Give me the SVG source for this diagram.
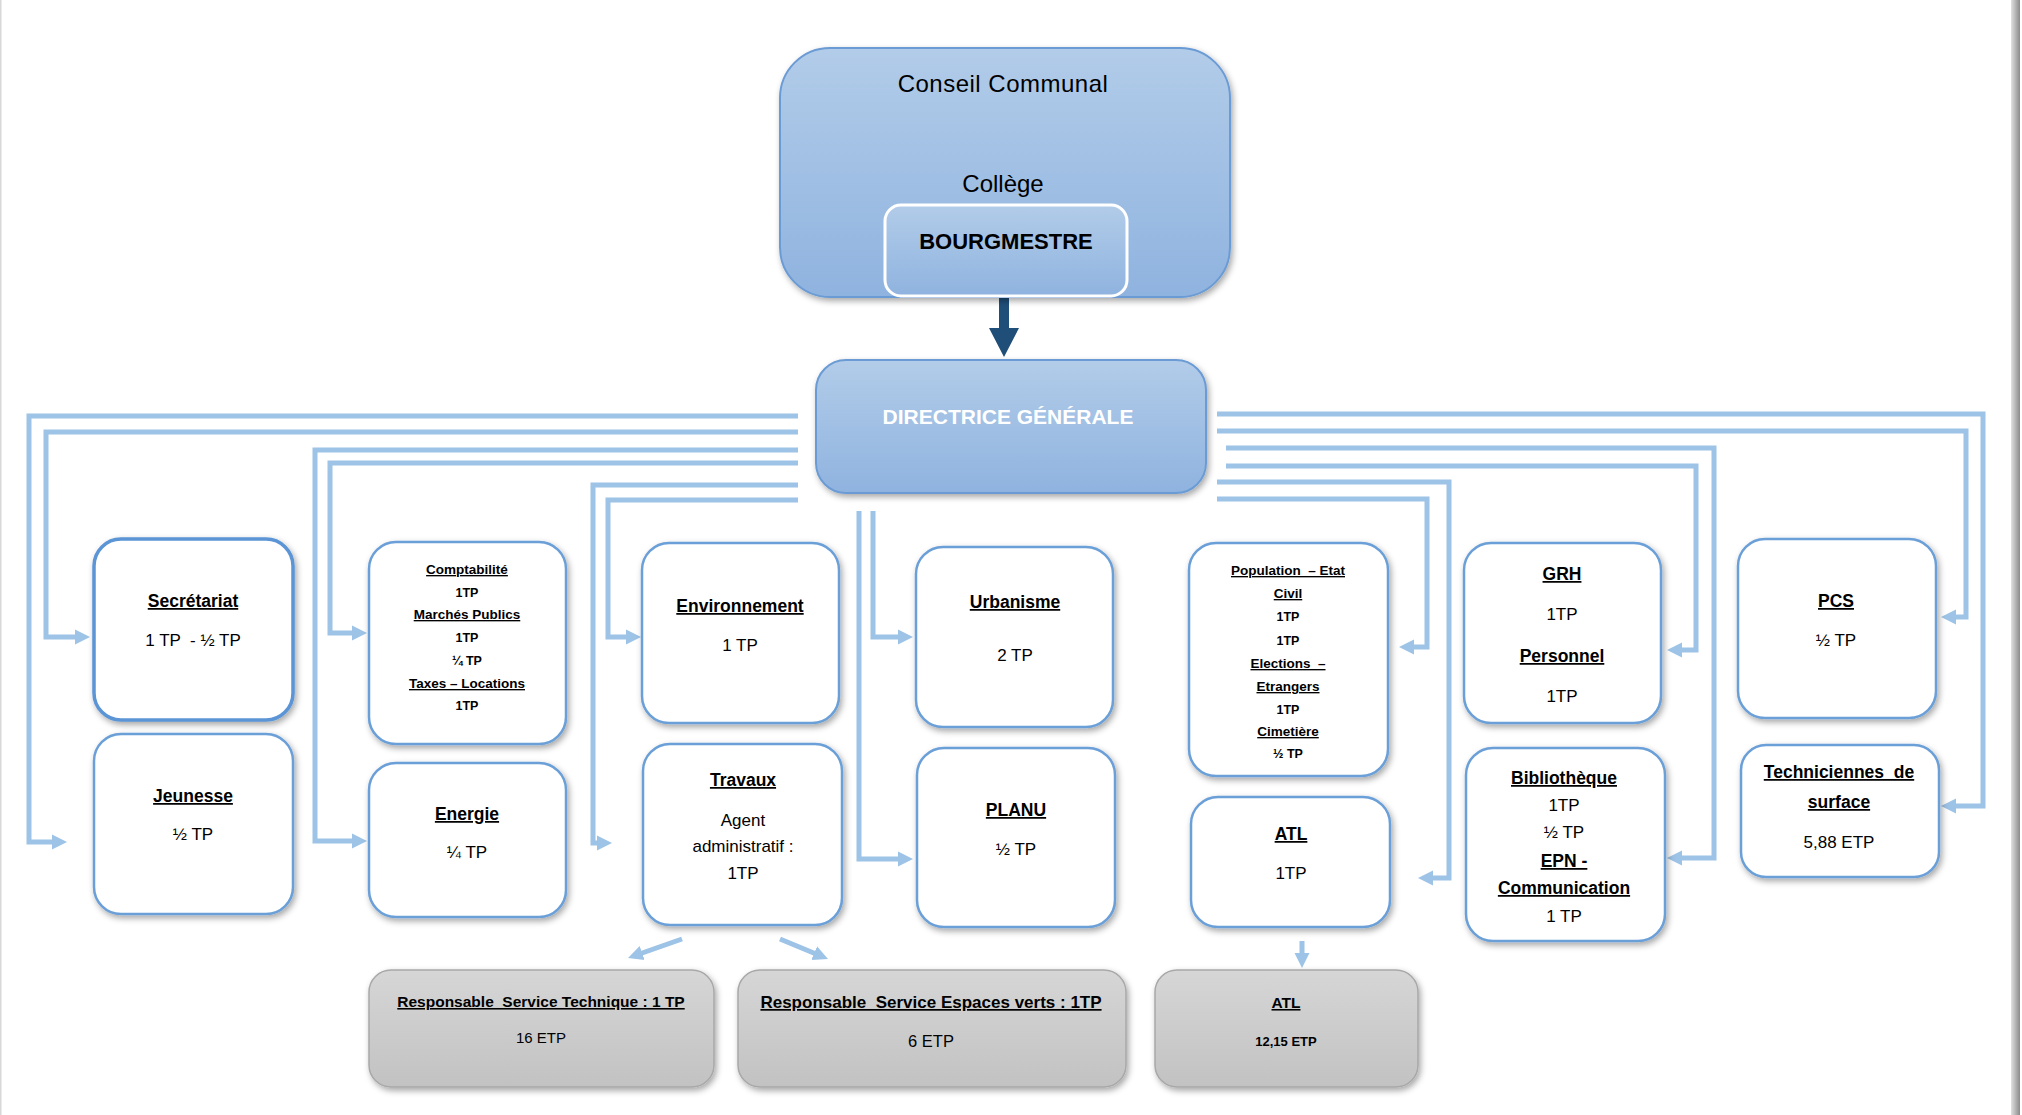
<svg xmlns="http://www.w3.org/2000/svg" width="2022" height="1115" viewBox="0 0 2022 1115">
<defs>
<linearGradient id="gBlue" x1="0" y1="0" x2="0" y2="1"><stop offset="0" stop-color="#b2cce9"/><stop offset="1" stop-color="#8fb3df"/></linearGradient>
<linearGradient id="gGray" x1="0" y1="0" x2="0" y2="1"><stop offset="0" stop-color="#d6d6d6"/><stop offset="1" stop-color="#c2c2c2"/></linearGradient>
<linearGradient id="gEdge" x1="0" y1="0" x2="1" y2="0"><stop offset="0" stop-color="#e0e0e0"/><stop offset="1" stop-color="#8a8a8a"/></linearGradient>
<filter id="sh" x="-10%" y="-10%" width="125%" height="125%"><feDropShadow dx="2" dy="3" stdDeviation="3" flood-color="#000" flood-opacity="0.35"/></filter>
<marker id="ah" viewBox="0 0 10 10" refX="4" refY="5" markerWidth="3" markerHeight="3.2" orient="auto" markerUnits="strokeWidth"><path d="M0,0 L10,5 L0,10 z" fill="#9dc3e6"/></marker>
<style>
.c{fill:none;stroke:#9dc3e6;stroke-width:5;marker-end:url(#ah)}
.w{fill:#fff;stroke:#6a9fd8;stroke-width:2.5;filter:url(#sh)}
.g{fill:url(#gGray);stroke:#a8a8a8;stroke-width:1.5;filter:url(#sh)}
.b{fill:url(#gBlue);stroke:#6b9bd4;stroke-width:2;filter:url(#sh)}
text{font-family:"Liberation Sans",Arial,sans-serif;text-anchor:middle;white-space:pre;fill:#000}
.h{font-weight:bold;text-decoration:underline;font-size:17.5px}
.v{font-size:17px}
.hs{font-weight:bold;text-decoration:underline;font-size:13.5px}
.vs{font-weight:bold;font-size:12.5px}
.gh{font-weight:bold;text-decoration:underline}
</style>
</defs>
<rect width="2022" height="1115" fill="#fff"/>
<rect x="2011" y="0" width="9" height="1115" fill="url(#gEdge)"/>
<rect x="0" y="0" width="1.5" height="1115" fill="#d8d8d8"/>

<g id="connectors">
<path class="c" d="M798,416 H29 V842 H58"/>
<path class="c" d="M798,432 H46 V637 H81"/>
<path class="c" d="M798,450 H315 V841 H358"/>
<path class="c" d="M798,463 H330 V633 H358"/>
<path class="c" d="M798,485 H593 V843 H603"/>
<path class="c" d="M798,500 H608 V637 H632"/>
<path class="c" d="M859,511 V859 H904"/>
<path class="c" d="M873,511 V637 H904"/>
<path class="c" d="M1217,414 H1983 V806 H1950"/>
<path class="c" d="M1217,431 H1966 V617 H1950"/>
<path class="c" d="M1226,448 H1714 V858 H1676"/>
<path class="c" d="M1226,466 H1696 V650 H1676"/>
<path class="c" d="M1217,482 H1449 V878 H1427"/>
<path class="c" d="M1217,499 H1427 V647 H1408"/>
<path class="c" d="M682,939 L636.5,955"/>
<path class="c" d="M780,939 L819.7,955.5"/>
<path class="c" d="M1302,941 V959"/>
<path d="M999,297 H1009 V328 H1019 L1004,357 L989,328 H999 Z" fill="#1f4e79"/>
</g>

<g id="conseil">
<rect class="b" x="780" y="48" width="450" height="249" rx="50"/>
<text x="1003" y="92" style="font-size:24px;letter-spacing:0.5px">Conseil Communal</text>
<text x="1003" y="192" style="font-size:24px">Collège</text>
</g>
<g id="bourgmestre">
<rect x="885" y="205" width="242" height="91" rx="16" fill="url(#gBlue)" stroke="#fff" stroke-width="3"/>
<text x="1006" y="249" style="font-size:22px;font-weight:bold">BOURGMESTRE</text>
</g>
<g id="directrice">
<rect class="b" x="816" y="360" width="390" height="133" rx="30" stroke="#7aa6d8"/>
<text x="1008" y="424" style="font-size:21px;font-weight:bold;fill:#fff">DIRECTRICE GÉNÉRALE</text>
</g>

<g id="secretariat">
<rect class="w" x="94" y="539" width="199" height="181" rx="27" style="stroke:#5b95d5;stroke-width:3.5"/>
<text class="h" x="193" y="607">Secrétariat</text>
<text class="v" x="193" y="646">1 TP  - ½ TP</text>
</g>
<g id="jeunesse">
<rect class="w" x="94" y="734" width="199" height="180" rx="27"/>
<text class="h" x="193" y="802">Jeunesse</text>
<text class="v" x="193" y="840">½ TP</text>
</g>
<g id="comptabilite">
<rect class="w" x="369" y="542" width="197" height="202" rx="27"/>
<text class="hs" x="467" y="574">Comptabilité</text>
<text class="vs" x="467" y="597">1TP</text>
<text class="hs" x="467" y="619">Marchés Publics</text>
<text class="vs" x="467" y="642">1TP</text>
<text class="vs" x="467" y="665">¼ TP</text>
<text class="hs" x="467" y="688">Taxes – Locations</text>
<text class="vs" x="467" y="710">1TP</text>
</g>
<g id="energie">
<rect class="w" x="369" y="763" width="197" height="154" rx="27"/>
<text class="h" x="467" y="820">Energie</text>
<text class="v" x="467" y="858">¼ TP</text>
</g>
<g id="environnement">
<rect class="w" x="642" y="543" width="197" height="180" rx="27"/>
<text class="h" x="740" y="612">Environnement</text>
<text class="v" x="740" y="651">1 TP</text>
</g>
<g id="travaux">
<rect class="w" x="643" y="744" width="199" height="181" rx="27"/>
<text class="h" x="743" y="786">Travaux</text>
<text class="v" x="743" y="826">Agent</text>
<text class="v" x="743" y="852">administratif :</text>
<text class="v" x="743" y="879">1TP</text>
</g>
<g id="urbanisme">
<rect class="w" x="916" y="547" width="197" height="180" rx="27"/>
<text class="h" x="1015" y="608">Urbanisme</text>
<text class="v" x="1015" y="661">2 TP</text>
</g>
<g id="planu">
<rect class="w" x="917" y="748" width="198" height="179" rx="27"/>
<text class="h" x="1016" y="816">PLANU</text>
<text class="v" x="1016" y="855">½ TP</text>
</g>
<g id="population">
<rect class="w" x="1189" y="543" width="199" height="233" rx="27"/>
<text class="hs" x="1288" y="575">Population  – Etat</text>
<text class="hs" x="1288" y="598">Civil</text>
<text class="vs" x="1288" y="621">1TP</text>
<text class="vs" x="1288" y="645">1TP</text>
<text class="hs" x="1288" y="668">Elections  –</text>
<text class="hs" x="1288" y="691">Etrangers</text>
<text class="vs" x="1288" y="714">1TP</text>
<text class="hs" x="1288" y="736">Cimetière</text>
<text class="vs" x="1288" y="758">½ TP</text>
</g>
<g id="atl">
<rect class="w" x="1191" y="797" width="199" height="130" rx="27"/>
<text class="h" x="1291" y="840">ATL</text>
<text class="v" x="1291" y="879">1TP</text>
</g>
<g id="grh">
<rect class="w" x="1464" y="543" width="197" height="180" rx="27"/>
<text class="h" x="1562" y="580">GRH</text>
<text class="v" x="1562" y="620">1TP</text>
<text class="h" x="1562" y="662">Personnel</text>
<text class="v" x="1562" y="702">1TP</text>
</g>
<g id="bibliotheque">
<rect class="w" x="1466" y="748" width="199" height="193" rx="27"/>
<text class="h" x="1564" y="784">Bibliothèque</text>
<text class="v" x="1564" y="811">1TP</text>
<text class="v" x="1564" y="838">½ TP</text>
<text class="h" x="1564" y="867">EPN -</text>
<text class="h" x="1564" y="894">Communication</text>
<text class="v" x="1564" y="922">1 TP</text>
</g>
<g id="pcs">
<rect class="w" x="1738" y="539" width="198" height="179" rx="27"/>
<text class="h" x="1836" y="607">PCS</text>
<text class="v" x="1836" y="646">½ TP</text>
</g>
<g id="techniciennes">
<rect class="w" x="1741" y="745" width="198" height="132" rx="25"/>
<text class="h" x="1839" y="778">Techniciennes  de</text>
<text class="h" x="1839" y="808">surface</text>
<text class="v" x="1839" y="848">5,88 ETP</text>
</g>

<g id="resp-technique">
<rect class="g" x="369" y="970" width="345" height="117" rx="22"/>
<text class="gh" x="541" y="1007" style="font-size:15.5px">Responsable  Service Technique : 1 TP</text>
<text x="541" y="1043" style="font-size:15px">16 ETP</text>
</g>
<g id="resp-espaces">
<rect class="g" x="738" y="970" width="388" height="117" rx="22"/>
<text class="gh" x="931" y="1008" style="font-size:17px">Responsable  Service Espaces verts : 1TP</text>
<text x="931" y="1047" style="font-size:16.5px">6 ETP</text>
</g>
<g id="atl-etp">
<rect class="g" x="1155" y="970" width="263" height="117" rx="22"/>
<text class="gh" x="1286" y="1008" style="font-size:15.5px">ATL</text>
<text x="1286" y="1046" style="font-size:13px;font-weight:bold">12,15 ETP</text>
</g>
</svg>
